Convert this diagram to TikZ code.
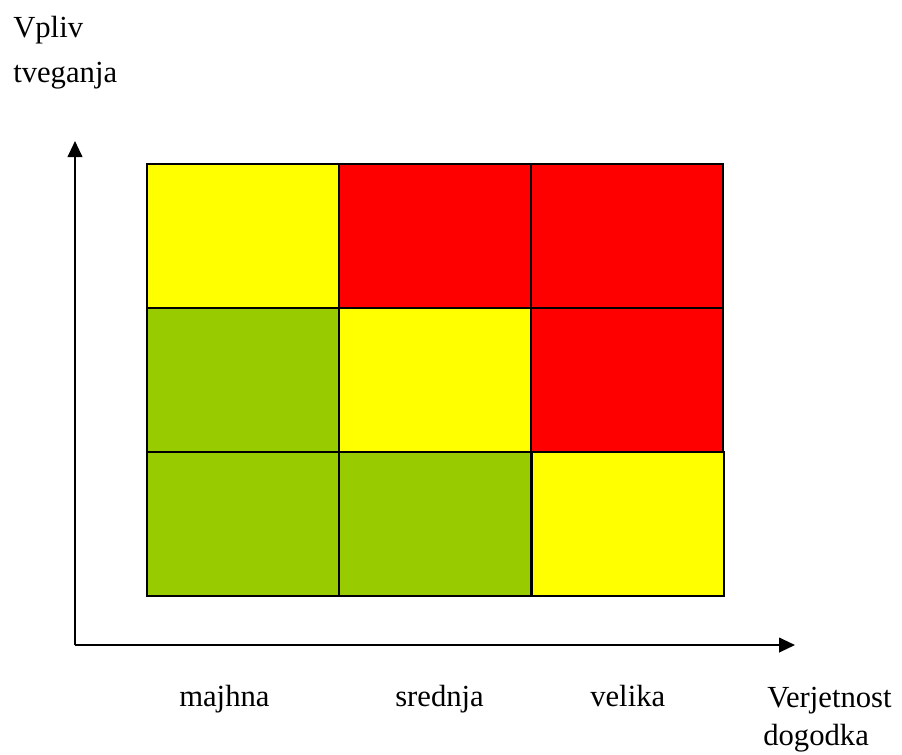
\documentclass[tikz,border=0pt]{standalone}
\usepackage{fontspec}
\setmainfont{Liberation Serif}
\usetikzlibrary{arrows.meta}
\definecolor{riskLow}{HTML}{99CC00}
\definecolor{riskMid}{HTML}{FFFF00}
\definecolor{riskHigh}{HTML}{FF0000}

\begin{document}
\begin{tikzpicture}[
    x=0.75pt, y=-0.75pt,
    cell/.style={rectangle, draw=black, line width=1.3pt, minimum width=144pt,
                 minimum height=108pt, inner sep=0pt},
    low/.style={cell, fill=riskLow},
    mid/.style={cell, fill=riskMid},
    high/.style={cell, fill=riskHigh},
    axis/.style={-{Triangle[length=12pt, width=11pt]}, line width=1.5pt, black},
    label/.style={anchor=base west, inner sep=0pt, font=\fontsize{23}{27}\selectfont},
]
    \useasboundingbox (0,0) rectangle (902,754);

    % Top row: high impact
    \node[mid]  (c13) at (243,236) {};
    \node[high] (c23) at (435,236) {};
    \node[high] (c33) at (627,236) {};

    % Middle row
    \node[low]  (c12) at (243,380) {};
    \node[mid]  (c22) at (435,380) {};
    \node[high] (c32) at (627,380) {};

    % Bottom row: low impact
    \node[low]  (c11) at (243,524) {};
    \node[low]  (c21) at (435,524) {};
    \node[mid]  (c31) at (628,524) {};

    % Axes
    \coordinate (origin) at (75,645);
    \coordinate (ytip) at (75,141);
    \coordinate (xtip) at (795,645);
    \draw[axis] (origin) -- (ytip);
    \draw[axis] (origin) -- (xtip);

    % Axis titles
    \node[label] (vpliv) at (13,37) {Vpliv};
    \node[label] (tveg) at (13,82) {tveganja};
    \node[label] (verj) at (767,707) {Verjetnost};
    \node[label] (dog) at (763,745) {dogodka};

    % Column labels
    \node[label] (majhna) at (179,706) {majhna};
    \node[label] (srednja) at (395,706) {srednja};
    \node[label] (velika) at (590,706) {velika};
\end{tikzpicture}
\end{document}
